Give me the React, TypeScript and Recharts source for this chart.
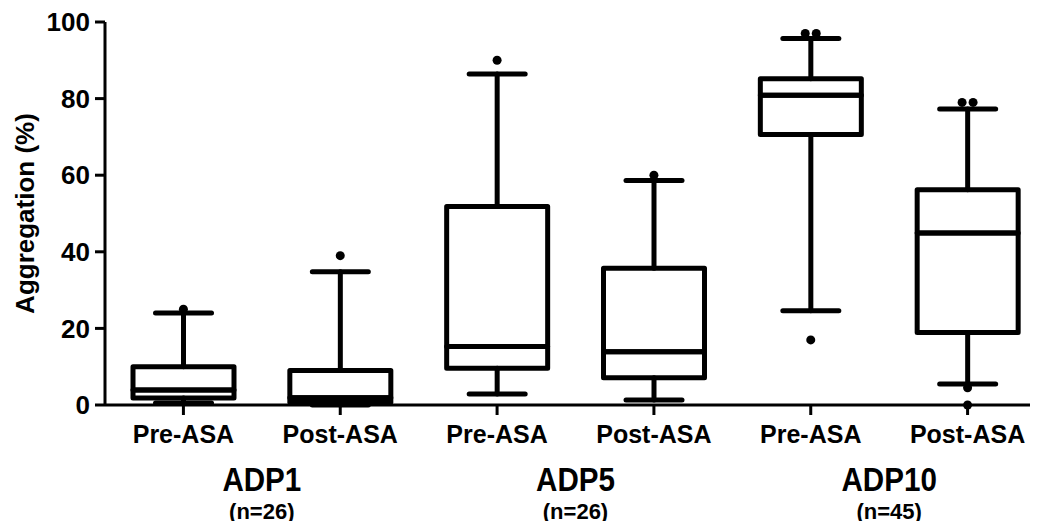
import { Bar, ComposedChart, Scatter, XAxis, YAxis } from "recharts";

const CATEGORIES = ["Pre-ASA", "Post-ASA", "Pre-ASA", "Post-ASA", "Pre-ASA", "Post-ASA"];
const GROUPS = ["ADP1", "ADP1", "ADP5", "ADP5", "ADP10", "ADP10"];
const GROUP_N: Record<string, string> = { ADP1: "(n=26)", ADP5: "(n=26)", ADP10: "(n=45)" };

// box plot stats per category (Aggregation %)
const MIN = [0.5, 0, 2.9, 1.3, 24.6, 5.5];
const Q1 = [1.8, 0.7, 9.6, 7.1, 70.6, 18.9];
const MEDIAN = [3.9, 1.9, 15.3, 13.9, 80.9, 44.9];
const Q3 = [10, 9, 51.8, 35.7, 85.2, 56.2];
const MAX = [24, 34.8, 86.4, 58.6, 95.7, 77.3];
const OUTLIERS = [[25], [39], [90], [60], [97, 97, 17], [79, 79, 4.5, 0]];

const Y_TICKS = [0, 20, 40, 60, 80, 100];

const FONT = "'Liberation Sans', Arial, sans-serif";
const STROKE = 5;
const CAP = 28;

const data = CATEGORIES.map((label, i) => {
  const row: Record<string, any> = {
    idx: i,
    label,
    group: GROUPS[i],
    base: MIN[i],
    lowWhisker: Q1[i] - MIN[i],
    lowBox: MEDIAN[i] - Q1[i],
    highBox: Q3[i] - MEDIAN[i],
    highWhisker: MAX[i] - Q3[i],
  };
  OUTLIERS[i].forEach((v, k) => {
    row[`out${k}`] = v;
  });
  return row;
});

const maxOutliers = Math.max(...OUTLIERS.map((o) => o.length));
const outlierKeys = Array.from({ length: maxOutliers }, (_, k) => k);

function LowWhisker(p: any) {
  const cx = p.x + p.width / 2;
  const yb = p.y + p.height;
  return (
    <g stroke="#000" strokeWidth={STROKE} strokeLinecap="round">
      <line x1={cx} x2={cx} y1={p.y} y2={yb} />
      <line x1={cx - CAP} x2={cx + CAP} y1={yb} y2={yb} />
    </g>
  );
}

function HighWhisker(p: any) {
  const cx = p.x + p.width / 2;
  return (
    <g stroke="#000" strokeWidth={STROKE} strokeLinecap="round">
      <line x1={cx} x2={cx} y1={p.y} y2={p.y + p.height} />
      <line x1={cx - CAP} x2={cx + CAP} y1={p.y} y2={p.y} />
    </g>
  );
}

function BoxPart(p: any) {
  return (
    <rect
      x={p.x}
      y={p.y}
      width={p.width}
      height={p.height}
      fill="none"
      stroke="#000"
      strokeWidth={STROKE}
      strokeLinejoin="round"
    />
  );
}

const outlierShape = (k: number) => (p: any) => {
  const row = p.payload;
  const vals = OUTLIERS[row?.idx] ?? [];
  const v = vals[k];
  if (v === undefined || !Number.isFinite(p.cx) || !Number.isFinite(p.cy)) return <g />;
  const twins = vals.filter((w) => Math.abs(w - v) < 2).length;
  const rank = vals.slice(0, k).filter((w) => Math.abs(w - v) < 2).length;
  const dx = twins > 1 ? (rank - (twins - 1) / 2) * 11 : 0;
  return <circle cx={p.cx + dx} cy={p.cy} r={4.5} fill="#000" />;
};

function GroupTick(p: any) {
  const name = p.payload.value;
  return (
    <g fill="#000" fontWeight="bold" fontFamily={FONT}>
      <text
        transform={`translate(${p.x} ${p.y + 36}) scale(0.87 1)`}
        textAnchor="middle"
        fontSize={34}
      >
        {name}
      </text>
      <text x={p.x} y={p.y + 64} textAnchor="middle" fontSize={22}>
        {GROUP_N[name]}
      </text>
    </g>
  );
}

function YLabel(p: any) {
  const vb = p.viewBox;
  const x = 25;
  const y = vb.y + vb.height / 2;
  return (
    <text
      x={x}
      y={y}
      transform={`rotate(-90 ${x} ${y})`}
      textAnchor="middle"
      dominantBaseline="central"
      fontSize={26}
      fontWeight="bold"
      fontFamily={FONT}
      fill="#000"
    >
      Aggregation (%)
    </text>
  );
}

export default function App() {
  return (
    <div style={{ margin: -8, width: 1038, height: 529, overflow: "hidden", background: "#fff" }}>
      <ComposedChart
        width={1046}
        height={529}
        data={data}
        margin={{ top: 22, right: 0, bottom: 0, left: 0 }}
        barSize={101}
      >
        <XAxis
          dataKey="label"
          height={50}
          interval={0}
          axisLine={{ stroke: "#000", strokeWidth: 3 }}
          tickLine={{ stroke: "#000", strokeWidth: 3 }}
          tickSize={10}
          tickMargin={10}
          tick={{ fill: "#000", fontSize: 25, fontWeight: "bold", fontFamily: FONT }}
        />
        <XAxis
          xAxisId="grp"
          dataKey="group"
          allowDuplicatedCategory={false}
          height={74}
          interval={0}
          axisLine={false}
          tickLine={false}
          tickSize={0}
          tickMargin={0}
          tick={GroupTick}
        />
        <YAxis
          width={105}
          domain={[0, 100]}
          ticks={Y_TICKS}
          interval={0}
          axisLine={{ stroke: "#000", strokeWidth: 3 }}
          tickLine={{ stroke: "#000", strokeWidth: 3 }}
          tickSize={10}
          tickMargin={5}
          tick={{ fill: "#000", fontSize: 26, fontWeight: "bold", fontFamily: FONT }}
          label={YLabel}
        />
        <Bar dataKey="base" stackId="box" fill="none" isAnimationActive={false} />
        <Bar dataKey="lowWhisker" stackId="box" shape={LowWhisker} isAnimationActive={false} />
        <Bar dataKey="lowBox" stackId="box" shape={BoxPart} isAnimationActive={false} />
        <Bar dataKey="highBox" stackId="box" shape={BoxPart} isAnimationActive={false} />
        <Bar dataKey="highWhisker" stackId="box" shape={HighWhisker} isAnimationActive={false} />
        {outlierKeys.map((k) => (
          <Scatter key={k} dataKey={`out${k}`} shape={outlierShape(k)} isAnimationActive={false} />
        ))}
      </ComposedChart>
    </div>
  );
}
